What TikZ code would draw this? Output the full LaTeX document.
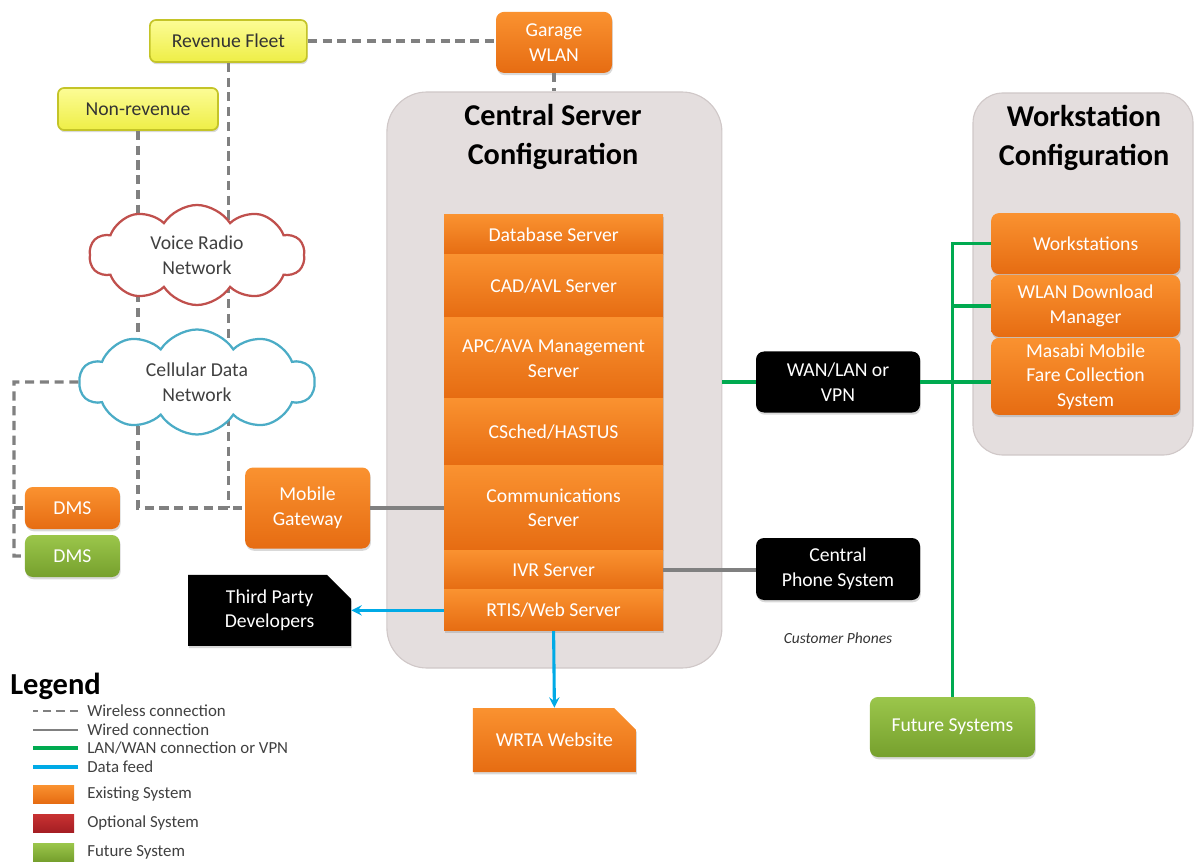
\documentclass[tikz,border=0pt]{standalone}
\usepackage{fontspec}
\setmainfont{Carlito}
\usepackage{tikz}
\usetikzlibrary{shapes,arrows,positioning,calc,shadows}
\definecolor{sysorange}{RGB}{250,146,48}
\definecolor{sysorangedk}{RGB}{230,108,18}
\definecolor{sysgreen}{RGB}{155,198,75}
\definecolor{sysgreendk}{RGB}{118,160,45}
\definecolor{sysred}{RGB}{200,50,50}
\definecolor{sysreddk}{RGB}{165,30,35}
\definecolor{fleetyellow}{RGB}{252,252,150}
\definecolor{fleetyellowdk}{RGB}{238,238,70}
\definecolor{fleetborder}{RGB}{196,196,40}
\definecolor{configbg}{RGB}{228,222,222}
\definecolor{configborder}{RGB}{208,200,200}
\definecolor{wiregray}{RGB}{128,128,128}
\definecolor{langreen}{RGB}{0,170,80}
\definecolor{feedblue}{RGB}{0,170,230}
\definecolor{radiored}{RGB}{192,80,77}
\definecolor{cellblue}{RGB}{75,172,198}
\newcommand{\boxfont}{\fontsize{14}{17.5}\selectfont}
\newcommand{\titlefont}{\fontsize{21.5}{27.5}\selectfont\bfseries}
\newcommand{\legendfont}{\fontsize{12}{13}\selectfont}

\begin{document}
\begin{tikzpicture}[
    box/.style={rectangle, rounded corners=0.2cm, align=center, font=\boxfont, inner sep=2pt,
        drop shadow={opacity=0.3, shadow xshift=0.6pt, shadow yshift=-1.6pt}},
    existing/.style={box, top color=sysorange, bottom color=sysorangedk, text=white},
    future/.style={box, top color=sysgreen, bottom color=sysgreendk, text=white},
    fleet/.style={box, rounded corners=0.15cm, top color=fleetyellow, bottom color=fleetyellowdk,
        draw=fleetborder, line width=1.2pt, text=black!80},
    outside/.style={box, fill=black, text=white},
    snipped/.style={chamfered rectangle, chamfered rectangle corners=north east,
        chamfered rectangle xsep=0.3cm, chamfered rectangle ysep=0.3cm, rounded corners=0pt},
    server/.style={existing, rounded corners=0pt, minimum width=5.475cm},
    config/.style={rectangle, rounded corners=1cm, fill=configbg, draw=configborder, line width=0.8pt},
    cloudnet/.style={cloud, cloud puffs=10, cloud puff arc=115, draw, fill=white, line width=1.6pt,
        font=\boxfont, text=black!75, align=center, inner sep=0pt},
    wireless/.style={dashed, dash pattern=on 6.5pt off 4pt, line width=2.2pt, draw=wiregray},
    wired/.style={line width=2.2pt, draw=wiregray},
    lan/.style={line width=2.2pt, draw=langreen},
    feed/.style={->, >=stealth, line width=2.2pt, draw=feedblue},
    swatch/.style={rectangle, minimum width=1.025cm, minimum height=0.45cm, inner sep=0pt},
    legenditem/.style={anchor=west, font=\legendfont, text=black!75, inner sep=0pt}
]
\useasboundingbox (0,0) rectangle (29.85,-21.575);

% Configuration panels
\node[config, minimum width=8.375cm, minimum height=14.4cm] (central) at (13.86,-9.5) {};
\node[align=center, font=\titlefont] (centraltitle) at (13.825,-3.425) {Central Server\\Configuration};
\node[config, rounded corners=0.75cm, minimum width=5.5cm, minimum height=9.05cm] (wsconf) at (27.075,-6.85) {};
\node[align=center, font=\titlefont] (wstitle) at (27.1,-3.45) {Workstation\\Configuration};

% Server stack
\node[server, minimum height=1.0cm] (db) at (13.84,-5.875) {Database Server};
\node[server, minimum height=1.575cm] (cad) at (13.84,-7.1625) {CAD/AVL Server};
\node[server, minimum height=2.0cm] (apc) at (13.84,-8.95) {APC/AVA Management\\Server};
\node[server, minimum height=1.675cm] (csched) at (13.84,-10.79) {CSched/HASTUS};
\node[server, minimum height=2.125cm] (comm) at (13.84,-12.69) {Communications\\Server};
\node[server, minimum height=1.0cm] (ivr) at (13.84,-14.25) {IVR Server};
\node[server, minimum height=1.025cm] (rtis) at (13.84,-15.26) {RTIS/Web Server};

% Vehicles and garage
\node[fleet, minimum width=3.925cm, minimum height=1.05cm] (rev) at (5.71,-1.025) {Revenue Fleet};
\node[fleet, minimum width=4.0cm, minimum height=1.05cm] (nonrev) at (3.45,-2.725) {Non-revenue};
\node[existing, minimum width=2.9cm, minimum height=1.525cm] (garage) at (13.85,-1.06) {Garage\\WLAN};

% Left side systems
\node[existing, minimum width=2.375cm, minimum height=1.05cm] (dms) at (1.81,-12.7) {DMS};
\node[future, minimum width=2.375cm, minimum height=1.05cm] (dmsnew) at (1.81,-13.9) {DMS};
\node[existing, minimum width=3.125cm, minimum height=2.025cm] (gw) at (7.69,-12.7) {Mobile\\Gateway};
\node[outside, snipped, minimum width=4.075cm, minimum height=1.575cm] (tpd) at (6.74,-15.26) {Third Party\\Developers};
\node[existing, snipped, minimum width=4.075cm, minimum height=1.6cm] (wrta) at (13.86,-18.5) {WRTA Website};

% Right side systems
\node[outside, minimum width=4.1cm, minimum height=1.525cm] (wan) at (20.95,-9.55) {WAN/LAN or\\VPN};
\node[outside, minimum width=4.1cm, minimum height=1.55cm] (cps) at (20.95,-14.225) {Central\\Phone System};
\node[font=\fontsize{11}{13}\selectfont\itshape, text=black!80] (custphones) at (20.95,-15.95) {Customer Phones};
\node[existing, minimum width=4.725cm, minimum height=1.525cm] (ws) at (27.14,-6.09) {Workstations};
\node[existing, minimum width=4.725cm, minimum height=1.55cm] (wlan) at (27.14,-7.65) {WLAN Download\\Manager};
\node[existing, minimum width=4.725cm, minimum height=1.925cm] (masabi) at (27.14,-9.41) {Masabi Mobile\\Fare Collection\\System};
\node[future, minimum width=4.125cm, minimum height=1.5cm] (fut) at (23.81,-18.175) {Future Systems};

% Wireless links from the fleet run behind the clouds
\draw[wireless] (nonrev.south) -- (nonrev.south |- gw.west) -- (gw.west);
\draw[wireless] (rev.south) -- (rev.south |- gw.west);

% Networks
\node[cloudnet, draw=radiored, aspect=2.15, minimum width=5.375cm, minimum height=2.5cm] (voice) at (4.925,-6.375) {Voice Radio\\Network};
\node[cloudnet, draw=cellblue, aspect=2.24, minimum width=5.875cm, minimum height=2.625cm] (cell) at (4.925,-9.55) {Cellular Data\\Network};

% Remaining wireless links
\coordinate (dmsbus) at (0.35,-9.55);
\draw[wireless] (rev.east) -- (rev.east -| garage.west);
\draw[wireless] (garage.south) -- (garage.south |- central.north);
\draw[wireless] (cell.west) -- (dmsbus) -- (dmsbus |- dmsnew.west) -- (dmsnew.west);
\draw[wireless] (dmsbus |- dms.west) -- (dms.west);

% Wired links
\draw[wired] (gw.east) -- (gw.east -| comm.west);
\draw[wired] (ivr.east) -- (ivr.east -| cps.west);

% LAN/WAN links
\draw[lan] (central.east |- wan.west) -- (wan.west);
\draw[lan] (wan.east) -- (wan.east -| masabi.west);
\draw[lan] (fut.north) -- (fut.north |- ws.west) -- (ws.west);
\draw[lan] (fut.north |- wlan.west) -- (wlan.west);

% Data feeds
\draw[feed] (rtis.west) -- (tpd.east);
\draw[feed] (rtis.south) -- (wrta.north);

% Legend
\node[anchor=west, font=\fontsize{21.7}{24}\selectfont\bfseries, inner sep=0pt] (legend) at (0.25,-17.15) {Legend};
\node[legenditem] (lgwireless) at (2.175,-17.775) {Wireless connection};
\node[legenditem] (lgwired) at (2.175,-18.25) {Wired connection};
\node[legenditem] (lglan) at (2.175,-18.7) {LAN/WAN connection or VPN};
\node[legenditem] (lgfeed) at (2.175,-19.175) {Data feed};
\node[legenditem] (lgexisting) at (2.175,-19.85) {Existing System};
\node[legenditem] (lgoptional) at (2.175,-20.58) {Optional System};
\node[legenditem] (lgfuture) at (2.175,-21.3) {Future System};
\draw[wireless, dash pattern=on 6pt off 3.5pt, line width=1.8pt] ([xshift=-0.225cm]lgwireless.west) -- ++(-1.125,0);
\draw[wired, line width=1.8pt] ([xshift=-0.225cm]lgwired.west) -- ++(-1.125,0);
\draw[lan] ([xshift=-0.225cm]lglan.west) -- ++(-1.125,0);
\draw[feedblue, line width=2.2pt] ([xshift=-0.225cm]lgfeed.west) -- ++(-1.125,0);
\node[swatch, top color=sysorange, bottom color=sysorangedk] (swexisting) at (1.34,-19.85) {};
\node[swatch, top color=sysred, bottom color=sysreddk] (swoptional) at (1.34,-20.58) {};
\node[swatch, top color=sysgreen, bottom color=sysgreendk] (swfuture) at (1.34,-21.3) {};

\end{tikzpicture}
\end{document}
